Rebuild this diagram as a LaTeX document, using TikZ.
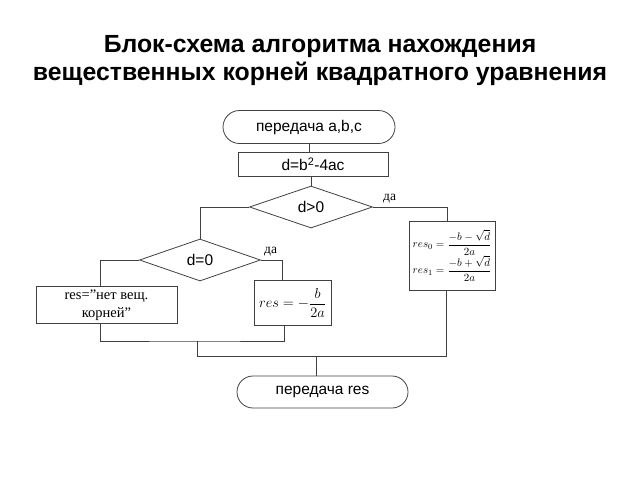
\documentclass[tikz,border=0pt]{standalone}
\usepackage{fontspec}
\setmainfont{Liberation Serif}
\setsansfont{Liberation Sans}
\usetikzlibrary{shapes.geometric,shapes.misc}
\tikzset{
  line/.style={draw=black!75, line width=0.8pt},
  term/.style={rounded rectangle, draw=black!75, line width=0.8pt, inner sep=0pt, font=\sffamily\fontsize{15.5}{18}\selectfont},
  procbox/.style={rectangle, draw=black!75, line width=0.8pt, inner sep=0pt, font=\sffamily\fontsize{15.5}{18}\selectfont},
  decide/.style={diamond, draw=black!75, line width=0.8pt, inner sep=0pt, aspect=2.9, font=\sffamily\fontsize{15.5}{18}\selectfont},
  yeslab/.style={font=\fontsize{13.5}{15}\selectfont, inner sep=1pt},
}
\begin{document}
\begin{tikzpicture}[x=1pt,y=-1pt]
\useasboundingbox (0,0) rectangle (640,480);
\node[font=\sffamily\bfseries\fontsize{24.8}{28}\selectfont, align=center] (title) at (320,61)
  {Блок-схема алгоритма нахождения\\вещественных корней квадратного уравнения};

\node[term, minimum width=172pt, minimum height=33pt] (start) at (309,127) {передача a,b,c};
\node[procbox, minimum width=150pt, minimum height=24pt] (calc) at (313,164.5) {d=b\textsuperscript{2}-4ac};
\node[decide, minimum width=123pt, minimum height=42pt] (dgt) at (311,207) {d>0};
\node[decide, minimum width=121pt, minimum height=42pt] (deq) at (200,260) {d=0};

\node[procbox, font=\fontsize{11}{12}\selectfont, minimum width=86pt, minimum height=69pt, align=left] (rbox) at (452,255.5)
  {$\displaystyle res_0=\frac{-b-\sqrt{d}}{2a}$\\[0pt]$\displaystyle res_1=\frac{-b+\sqrt{d}}{2a}$};
\node[procbox, font=\fontsize{15.5}{17}\selectfont, minimum width=77pt, minimum height=45pt] (mbox) at (292.5,303) {$\displaystyle res=-\frac{b}{2a}$};
\node[procbox, font=\fontsize{14.5}{18}\selectfont, align=center, minimum width=141pt, minimum height=37pt] (lbox) at (106.5,305) {res="нет вещ.\\корней"};

\node[term, minimum width=171pt, minimum height=32pt] (stop) at (322.5,392) {передача res};

\node[yeslab, anchor=south west] (yes1) at (382,204) {да};
\node[yeslab, anchor=south west] (yes2) at (263,257) {да};

\coordinate (jl) at (197,341);
\coordinate (jb) at (197,356);
\coordinate (jr) at (446,356);
\coordinate (jm) at (316,356);

\draw[line] (start.south) -- (start.south |- calc.north);
\draw[line] (calc.south -| dgt.north) -- (dgt.north);
\draw[line] (dgt.east) -| ([xshift=-5pt]rbox.north);
\draw[line] (dgt.west) -| (deq.north);
\draw[line] (deq.east) -| ([xshift=-10pt]mbox.north);
\draw[line] (deq.west) -| ([xshift=-6.5pt]lbox.north);
\draw[line] ([xshift=-6.5pt]lbox.south) |- (jl) -| ([xshift=-8pt]mbox.south);
\draw[line] (jl) -- (jb) -- (jr) -- ([xshift=-6pt]rbox.south);
\draw[line] (jm) -- (jm |- stop.north);
\end{tikzpicture}
\end{document}
